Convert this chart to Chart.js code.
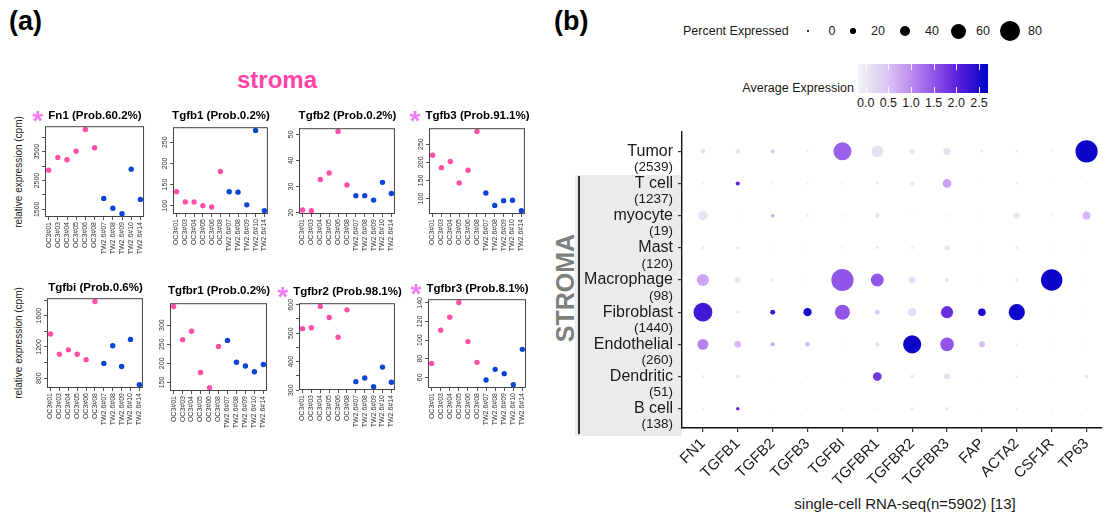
<!DOCTYPE html>
<html>
<head>
<meta charset="utf-8">
<script src="https://cdn.jsdelivr.net/npm/chart.js@4.4.0/dist/chart.umd.min.js"></script>
<style>
  body { margin: 0; background: #fff; font-family: "Liberation Sans", Arial, sans-serif; }
  #page { position: relative; width: 1113px; height: 512px; overflow: hidden; background: #fff; }
  .abs { position: absolute; }
  .panel { position: absolute; font-weight: bold; font-size: 27px; color: #000; }
  .ttl { position: absolute; font-weight: bold; font-size: 11.5px; white-space: nowrap; transform: translate(-50%, -50%); color: #000; }
  .star { position: absolute; left: -16px; top: -2px; font-size: 28px; line-height: 1; color: #f07ef0; font-weight: bold; }
  .ylab { position: absolute; font-size: 10px; white-space: nowrap; transform: translate(-50%, -50%) rotate(-90deg); color: #222; }
  .txt { position: absolute; white-space: nowrap; color: #1a1a1a; }
  .box { position: absolute; }
</style>
</head>
<body>
<div id="page">
  <div class="panel" style="left:9px;top:6px;">(a)</div>
  <div class="panel" style="left:554px;top:6px;">(b)</div>
  <div class="txt" style="left:277px;top:80px;transform:translate(-50%,-50%);font-size:24px;font-weight:bold;color:#ff44a8;">stroma</div>
  <div class="ylab" style="left:18px;top:172px;">relative expression (cpm)</div>
  <div class="ylab" style="left:18px;top:343px;">relative expression (cpm)</div>

  <!-- stroma strip behind the dot plot -->
  <div class="abs" style="left:575px;top:175px;width:107px;height:261px;background:#ebebeb;"></div>
  <div class="abs" style="left:578px;top:176px;width:2px;height:258px;background:#333;"></div>
  <div class="txt" style="left:565px;top:288px;transform:translate(-50%,-50%) rotate(-90deg);font-size:25px;font-weight:bold;color:#7f7f7f;">STROMA</div>

  <div class="txt" style="left:683px;top:31px;transform:translateY(-50%);font-size:12.5px;">Percent Expressed</div>
  <div id="sizeLegend"></div>
  <div class="txt" style="right:259px;top:88px;transform:translateY(-50%);font-size:12.5px;">Average Expression</div>
  <canvas id="colorBar" class="abs" width="130" height="29" style="left:858px;top:64px;"></canvas>
  <div id="barLabels"></div>
  <div class="txt" style="left:905px;top:503px;transform:translate(-50%,-50%);font-size:15px;">single-cell RNA-seq(n=5902) [13]</div>

  <div id="smallCharts"></div>
  <div class="box" style="left:540px;top:120px;width:573px;height:392px;"><canvas id="dotPlot"></canvas></div>
</div>

<script>
// ---- panel (a): bulk samples ----
const samples = ['OC3#01', 'OC3#03', 'OC3#04', 'OC3#05', 'OC3#06', 'OC3#08',
                 'TW2.6#07', 'TW2.6#08', 'TW2.6#09', 'TW2.6#10', 'TW2.6#14'];
const ocCount = 6; // first six samples are OC3 (pink), the rest TW2.6 (blue)

const fn1    = [2860, 3300, 3220, 3520, 4270, 3640, 1880, 1535, 1350, 2895, 1840];
const tgfb1  = [133, 109, 109, 100, 97, 181, 133, 132, 102, 278, 88];
const tgfb2  = [21.0, 20.7, 32.7, 35.2, 51.1, 30.6, 26.5, 26.5, 24.8, 31.6, 27.3];
const tgfb3  = [219, 185, 202, 143, 178, 285, 115, 81, 94, 95, 66];
const tgfbi  = [1366, 1107, 1163, 1107, 1038, 1781, 990, 1215, 951, 1297, 718];
const tgfbr1 = [349, 262, 284, 176, 136, 244, 260, 203, 193, 178, 197];
const tgfbr2 = [516, 519, 594, 555, 486, 582, 330, 343, 312, 381, 328];
const tgfbr3 = [75, 110.6, 124.6, 140.4, 98.4, 76.1, 57.1, 68.6, 64, 52.1, 90.1];

const geneNames = ['Fn1', 'Tgfb1', 'Tgfb2', 'Tgfb3', 'Tgfbi', 'Tgfbr1', 'Tgfbr2', 'Tgfbr3'];
const probs     = ['60.2', '0.2', '0.2', '91.1', '0.6', '0.2', '98.1', '8.1'];
const starred   = [true, false, false, true, false, false, true, true];
const geneValues = [fn1, tgfb1, tgfb2, tgfb3, tgfbi, tgfbr1, tgfbr2, tgfbr3];

// y tick positions and which of them carry a label
const yTicks = [
  [1500, 2000, 2500, 3000, 3500, 4000],
  [100, 150, 200, 250],
  [20, 30, 40, 50],
  [100, 150, 200, 250],
  [800, 1000, 1200, 1400, 1600, 1800],
  [150, 200, 250, 300],
  [300, 350, 400, 450, 500, 550, 600],
  [60, 80, 100, 120, 140]
];
const yShown = [
  [1500, 2500, 3500],
  [100, 150, 200, 250],
  [20, 30, 40, 50],
  [100, 150, 200, 250],
  [800, 1200, 1600],
  [150, 200, 250, 300],
  [300, 400, 500, 600],
  [60, 80, 100, 120, 140]
];

// ---- panel (b): single-cell dot plot ----
const genes = ['FN1', 'TGFB1', 'TGFB2', 'TGFB3', 'TGFBI', 'TGFBR1', 'TGFBR2', 'TGFBR3', 'FAP', 'ACTA2', 'CSF1R', 'TP63'];
const cellTypes  = ['Tumor', 'T cell', 'myocyte', 'Mast', 'Macrophage', 'Fibroblast', 'Endothelial', 'Dendritic', 'B cell'];
const cellCounts = [2539, 1237, 19, 120, 98, 1440, 260, 51, 138];

const pctExpressed = [
  [18, 17, 14, 6, 72, 46, 19, 28, 8, 8, 4, 90],   // Tumor
  [6, 15, 5, 5, 6, 8, 14, 34, 4, 7, 4, 3],        // T cell
  [37, 4, 12, 8, 5, 17, 4, 5, 4, 23, 5, 32],      // myocyte
  [9, 11, 4, 4, 7, 9, 9, 20, 4, 9, 4, 4],         // Mast
  [48, 23, 9, 6, 90, 51, 26, 17, 3, 12, 87, 4],   // Macrophage
  [76, 9, 18, 32, 60, 18, 32, 48, 29, 65, 4, 3],  // Fibroblast
  [43, 26, 14, 17, 5, 17, 73, 54, 23, 7, 4, 4],   // Endothelial
  [8, 12, 3, 3, 4, 34, 12, 23, 3, 8, 3, 12],      // Dendritic
  [6, 12, 3, 3, 5, 5, 8, 12, 3, 5, 3, 3]          // B cell
];
const avgExpression = [
  [0.05, 0.05, 0.5, 0.1, 1.4, 0.1, 0.05, 0.1, 0.05, 0.05, 0.05, 2.6],
  [0, 2.0, 0, 0, 0, 0, 0.05, 0.8, 0, 0, 0, 0],
  [0.05, 0, 0.8, 0.05, 0, 0.05, 0, 0, 0, 0.05, 0, 0.6],
  [0.05, 0.05, 0, 0, 0, 0.05, 0, 0.05, 0, 0, 0, 0],
  [0.75, 0.05, 0, 0, 1.5, 1.5, 0.1, 0.05, 0, 0, 2.6, 0],
  [2.2, 0.05, 2.3, 2.5, 1.5, 0.4, 0.15, 1.9, 2.5, 2.6, 0, 0],
  [1.1, 0.6, 0.8, 0.6, 0, 0.05, 2.6, 1.5, 0.55, 0, 0, 0],
  [0.05, 0.05, 0, 0, 0, 1.8, 0.05, 0.1, 0, 0.05, 0, 0.05],
  [0, 2.0, 0, 0, 0, 0, 0.05, 0.05, 0, 0, 0, 0]
];
const pctLegend = [0, 20, 40, 60, 80];
const expLegend = [0.0, 0.5, 1.0, 1.5, 2.0, 2.5];

// ---- layout (plot boxes of the small charts, page px) ----
const boxes = [[45, 125, 145, 217], [173, 126, 269, 214], [299, 127, 396, 214], [429, 127, 526, 214],
               [47, 297, 144, 388], [170, 302, 268, 391], [299, 302, 396, 390], [428, 298, 527, 388]];
const titleY = [115, 115, 115, 115, 287, 290, 291, 288];

Chart.defaults.font.family = '"Liberation Sans", Arial, sans-serif';
Chart.defaults.animation = false;

const PINK = '#ff4fa8';
const BLUE = '#0a44d6';

// R-style frame and rotated y labels
const rFrame = {
  id: 'rFrame',
  afterDraw(chart, args, opts) {
    const { ctx, chartArea: a, scales: { y } } = chart;
    ctx.save();
    ctx.strokeStyle = '#444';
    ctx.lineWidth = 1;
    ctx.strokeRect(a.left + 0.5, a.top + 0.5, a.right - a.left - 1, a.bottom - a.top - 1);
    ctx.fillStyle = '#333';
    ctx.font = '7px "Liberation Sans"';
    ctx.textAlign = 'center';
    ctx.textBaseline = 'bottom';
    (opts.shown || []).forEach(v => {
      ctx.save();
      ctx.translate(a.left - 4, y.getPixelForValue(v));
      ctx.rotate(-Math.PI / 2);
      ctx.fillText(String(v), 0, 0);
      ctx.restore();
    });
    ctx.restore();
  }
};

function makeSmall(k) {
  const vals = geneValues[k];
  const [L, T, R, B] = boxes[k];
  const holder = document.createElement('div');
  holder.className = 'box';
  holder.style.left = (L - 30) + 'px';
  holder.style.top = (T - 6) + 'px';
  holder.style.width = (R - L + 36) + 'px';
  holder.style.height = (B - T + 58) + 'px';
  const cv = document.createElement('canvas');
  holder.appendChild(cv);
  document.getElementById('smallCharts').appendChild(holder);

  const title = document.createElement('div');
  title.className = 'ttl';
  title.style.left = ((L + R) / 2) + 'px';
  title.style.top = titleY[k] + 'px';
  title.textContent = geneNames[k] + ' (Prob.' + probs[k] + '%)';
  if (starred[k]) {
    const s = document.createElement('span');
    s.className = 'star';
    s.textContent = '*';
    title.appendChild(s);
  }
  document.getElementById('page').appendChild(title);

  const lo = Math.min(...vals), hi = Math.max(...vals), pad = (hi - lo) * 0.04;
  const pts = vals.map((v, i) => ({ x: i + 1, y: v }));

  new Chart(cv, {
    type: 'scatter',
    data: {
      datasets: [
        { data: pts.slice(0, ocCount), backgroundColor: PINK, borderWidth: 0, pointRadius: 2.7 },
        { data: pts.slice(ocCount), backgroundColor: BLUE, borderWidth: 0, pointRadius: 2.7 }
      ]
    },
    options: {
      responsive: true,
      maintainAspectRatio: false,
      events: [],
      layout: { padding: { top: 6, right: 6, left: 0, bottom: 0 } },
      plugins: { legend: { display: false }, tooltip: { enabled: false }, rFrame: { shown: yShown[k] } },
      scales: {
        x: {
          type: 'linear', min: 0.6, max: 11.4,
          afterBuildTicks: s => { s.ticks = samples.map((n, i) => ({ value: i + 1 })); },
          afterFit: s => { s.height = 52; },
          ticks: { callback: v => samples[v - 1], minRotation: 90, maxRotation: 90, autoSkip: false,
                   font: { size: 7 }, color: '#333', padding: 2 },
          grid: { drawOnChartArea: false, tickLength: 3, color: '#555' },
          border: { display: false }
        },
        y: {
          type: 'linear', min: lo - pad, max: hi + pad,
          afterBuildTicks: s => { s.ticks = yTicks[k].map(v => ({ value: v })); },
          afterFit: s => { s.width = 30; },
          ticks: { callback: () => '', font: { size: 7 } },
          grid: { drawOnChartArea: false, tickLength: 3, color: '#555' },
          border: { display: false }
        }
      }
    },
    plugins: [rFrame]
  });
}

geneNames.forEach((g, k) => makeSmall(k));

// ---- colour and size scales for the dot plot ----
const colStops = [
  [-0.2, [248, 245, 252]],
  [0.0, [234, 231, 241]],
  [0.5, [218, 196, 245]],
  [1.0, [190, 140, 240]],
  [1.5, [145, 85, 232]],
  [2.0, [95, 35, 220]],
  [2.7, [0, 0, 200]]
];
function expColor(v) {
  if (v <= colStops[0][0]) return 'rgb(' + colStops[0][1].join(',') + ')';
  for (let i = 1; i < colStops.length; i++) {
    const [v1, c1] = colStops[i];
    if (v <= v1) {
      const [v0, c0] = colStops[i - 1];
      const t = (v - v0) / (v1 - v0);
      return 'rgb(' + c0.map((c, j) => Math.round(c + (c1[j] - c) * t)).join(',') + ')';
    }
  }
  return 'rgb(' + colStops[colStops.length - 1][1].join(',') + ')';
}
function pctRadius(p) { return Math.max(0.8, 0.3 + 0.12 * p); }

// size legend
const legendDotX = [808, 853, 905, 958, 1010];
const legendTxtX = [832, 878, 932, 983, 1035];
const sl = document.getElementById('sizeLegend');
pctLegend.forEach((p, i) => {
  const r = pctRadius(p);
  const d = document.createElement('div');
  d.className = 'abs';
  d.style.cssText = `left:${legendDotX[i] - r}px;top:${31 - r}px;width:${2 * r}px;height:${2 * r}px;border-radius:50%;background:#000;`;
  sl.appendChild(d);
  const t = document.createElement('div');
  t.className = 'txt';
  t.style.cssText = `left:${legendTxtX[i]}px;top:31px;transform:translate(-50%,-50%);font-size:12.5px;`;
  t.textContent = String(p);
  sl.appendChild(t);
});

// colour bar: canvas spans values -0.17..2.7
const cb = document.getElementById('colorBar');
const cbLeft = 858;
const cctx = cb.getContext('2d');
const barMin = -0.17, barMax = 2.7;
const xOf = v => (v - barMin) / (barMax - barMin) * cb.width;
for (let px = 0; px < cb.width; px++) {
  cctx.fillStyle = expColor(barMin + (px + 0.5) / cb.width * (barMax - barMin));
  cctx.fillRect(px, 0, 1, cb.height);
}
cctx.fillStyle = 'rgba(255,255,255,0.9)';
expLegend.forEach(v => {
  const x = Math.round(xOf(v));
  cctx.fillRect(x, 0, 1, 6);
  cctx.fillRect(x, cb.height - 6, 1, 6);
});
const bl = document.getElementById('barLabels');
expLegend.forEach(v => {
  const t = document.createElement('div');
  t.className = 'txt';
  t.style.cssText = `left:${cbLeft + xOf(v)}px;top:103px;transform:translate(-50%,-50%);font-size:12.5px;`;
  t.textContent = v.toFixed(1);
  bl.appendChild(t);
});

// row labels with cell counts
const rowLabels = {
  id: 'rowLabels',
  afterDraw(chart) {
    const { ctx, chartArea: a, scales: { y } } = chart;
    ctx.save();
    ctx.fillStyle = '#1a1a1a';
    ctx.textAlign = 'right';
    ctx.textBaseline = 'middle';
    cellTypes.forEach((name, i) => {
      const py = y.getPixelForValue(i + 1);
      ctx.font = '16px "Liberation Sans"';
      ctx.fillText(name, a.left - 9, py);
      ctx.font = '13.5px "Liberation Sans"';
      ctx.fillText('(' + cellCounts[i] + ')', a.left - 9, py + 16);
    });
    ctx.restore();
  }
};

const dots = [];
cellTypes.forEach((c, i) => {
  genes.forEach((g, j) => {
    dots.push({ x: j + 1, y: i + 1, r: pctRadius(pctExpressed[i][j]), e: avgExpression[i][j] });
  });
});

new Chart(document.getElementById('dotPlot'), {
  type: 'bubble',
  data: {
    datasets: [{
      data: dots,
      backgroundColor: ctx => expColor(ctx.raw ? ctx.raw.e : 0),
      borderWidth: 0
    }]
  },
  options: {
    responsive: true,
    maintainAspectRatio: false,
    events: [],
    clip: false,
    layout: { padding: { top: 12, right: 0, left: 0, bottom: 0 } },
    plugins: { legend: { display: false }, tooltip: { enabled: false } },
    scales: {
      x: {
        type: 'linear', min: 0.4, max: 12.44,
        afterBuildTicks: s => { s.ticks = genes.map((g, i) => ({ value: i + 1 })); },
        afterFit: s => { s.height = 84; },
        ticks: { callback: v => genes[v - 1], minRotation: 45, maxRotation: 45, autoSkip: false,
                 font: { size: 15 }, color: '#1a1a1a', padding: 3 },
        grid: { drawOnChartArea: false, tickLength: 4, color: '#333', lineWidth: 1.2 },
        border: { display: true, color: '#111', width: 1.4 }
      },
      y: {
        type: 'linear', min: 0.4, max: 9.6, reverse: true,
        afterBuildTicks: s => { s.ticks = cellTypes.map((c, i) => ({ value: i + 1 })); },
        afterFit: s => { s.width = 142; },
        ticks: { callback: () => '' },
        grid: { drawOnChartArea: false, tickLength: 4, color: '#333', lineWidth: 1.2 },
        border: { display: true, color: '#111', width: 1.4 }
      }
    }
  },
  plugins: [rowLabels]
});
</script>
</body>
</html>
